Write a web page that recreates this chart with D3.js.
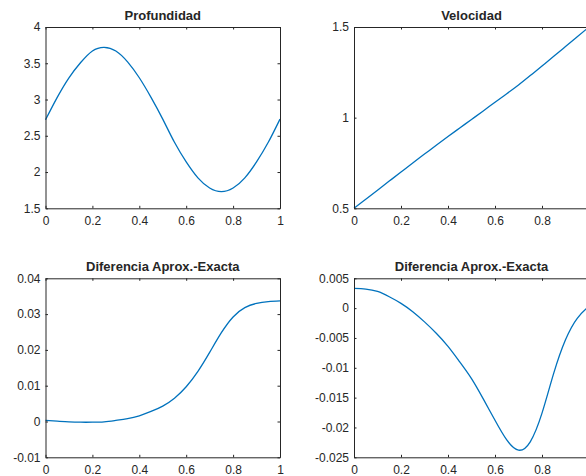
<!DOCTYPE html>
<html>
<head>
<meta charset="utf-8">
<script src="https://cdn.jsdelivr.net/npm/d3@7"></script>
<style>
  html, body { margin: 0; padding: 0; background: #fff; }
  svg { display: block; }
  text { font-family: "Liberation Sans", Arial, Helvetica, sans-serif; fill: #262626; }
</style>
</head>
<body>
<svg id="chart" width="586" height="476"></svg>
<script>
// ---- data ----
const xValues = [0,0.05,0.1,0.15,0.2,0.25,0.3,0.35,0.4,0.45,0.5,0.55,0.6,0.65,0.7,0.75,0.8,0.85,0.9,0.95,1];

const profundidad = [2.72,3.03,3.30,3.51,3.67,3.72,3.67,3.52,3.30,3.03,2.73,2.41,2.14,1.92,1.78,1.73,1.78,1.92,2.14,2.41,2.73];
const velocidad = [0.500,0.550,0.600,0.650,0.700,0.750,0.799,0.848,0.896,0.943,0.990,1.037,1.085,1.132,1.180,1.232,1.285,1.338,1.392,1.446,1.500];
const diferenciaProf = [0.0003,0.0001,-0.0001,-0.0002,-0.0002,-0.0001,0.0003,0.0008,0.0016,0.0028,0.0043,0.0065,0.0097,0.0140,0.0193,0.0248,0.0292,0.0318,0.0330,0.0335,0.0337];
const diferenciaVel = [0.0033,0.0032,0.0028,0.0019,0.0008,-0.0006,-0.0023,-0.0042,-0.0064,-0.0090,-0.0118,-0.0152,-0.0188,-0.0221,-0.0238,-0.0224,-0.0176,-0.0109,-0.0053,-0.0017,0.0003];

const titles = ["Profundidad","Velocidad","Diferencia Aprox.-Exacta","Diferencia Aprox.-Exacta"];

const xTicks = [0,0.2,0.4,0.6,0.8,1];
const xTickLabels = ["0","0.2","0.4","0.6","0.8","1"];

const yTicksProf = [1.5,2,2.5,3,3.5,4];
const yTickLabelsProf = ["1.5","2","2.5","3","3.5","4"];
const yTicksVel = [0.5,1,1.5];
const yTickLabelsVel = ["0.5","1","1.5"];
const yTicksDifProf = [-0.01,0,0.01,0.02,0.03,0.04];
const yTickLabelsDifProf = ["-0.01","0","0.01","0.02","0.03","0.04"];
const yTicksDifVel = [-0.025,-0.02,-0.015,-0.01,-0.005,0,0.005];
const yTickLabelsDifVel = ["-0.025","-0.02","-0.015","-0.01","-0.005","0","0.005"];

const yDomains = [[1.5,4],[0.5,1.5],[-0.01,0.04],[-0.025,0.005]];
const seriesList = [profundidad, velocidad, diferenciaProf, diferenciaVel];
const yTickSets = [yTicksProf, yTicksVel, yTicksDifProf, yTicksDifVel];
const yLabelSets = [yTickLabelsProf, yTickLabelsVel, yTickLabelsDifProf, yTickLabelsDifVel];

// ---- layout ----
const W = 586, H = 476;
const cols = [[45.5, 280], [354, 589]];
const rows = [[27, 208.3], [278.3, 457.3]];
const axisColor = "#262626";
const lineColor = "#0072BD";
const tickLen = 2.5;

const svg = d3.select("#chart");
svg.append("rect").attr("width", W).attr("height", H).attr("fill", "#fff");

for (let i = 0; i < 4; i++) {
  const c = cols[i % 2], r = rows[Math.floor(i / 2)];
  const x = d3.scaleLinear().domain([0, 1]).range(c);
  const y = d3.scaleLinear().domain(yDomains[i]).range([r[1], r[0]]);
  const g = svg.append("g");

  // line
  const line = d3.line()
    .x((d, k) => x(xValues[k]))
    .y(d => y(d))
    .curve(d3.curveNatural);
  g.append("path")
    .datum(seriesList[i])
    .attr("d", line)
    .attr("fill", "none")
    .attr("stroke", lineColor)
    .attr("stroke-width", 1.3);

  const xl = d3.scaleOrdinal().domain(xTicks).range(xTickLabels);
  const yl = d3.scaleOrdinal().domain(yTickSets[i]).range(yLabelSets[i]);

  const bottom = g.append("g").attr("transform", `translate(0,${r[1]})`)
    .call(d3.axisBottom(x).tickValues(xTicks).tickFormat(d => xl(d))
      .tickSizeInner(-tickLen).tickSizeOuter(0).tickPadding(5));
  const top = g.append("g").attr("transform", `translate(0,${r[0]})`)
    .call(d3.axisTop(x).tickValues(xTicks).tickFormat("")
      .tickSizeInner(-tickLen).tickSizeOuter(0));
  const left = g.append("g").attr("transform", `translate(${c[0]},0)`)
    .call(d3.axisLeft(y).tickValues(yTickSets[i]).tickFormat(d => yl(d))
      .tickSizeInner(-tickLen).tickSizeOuter(0).tickPadding(5));
  const right = g.append("g").attr("transform", `translate(${c[1]},0)`)
    .call(d3.axisRight(y).tickValues(yTickSets[i]).tickFormat("")
      .tickSizeInner(-tickLen).tickSizeOuter(0));

  [bottom, top, left, right].forEach(a => {
    a.select(".domain").attr("stroke", axisColor).attr("stroke-width", 1);
    a.selectAll(".tick line").attr("stroke", axisColor).attr("stroke-width", 1);
    a.selectAll(".tick text").attr("font-size", 12).attr("fill", axisColor)
      .attr("font-family", '"Liberation Sans", Arial, Helvetica, sans-serif');
  });
  bottom.selectAll(".tick text").attr("dy", "0.95em");
  // labels whose tick lies beyond the visible page are not shown (as in the reference)
  bottom.selectAll(".tick").filter(d => x(d) > W - 2).select("text").remove();

  g.append("text")
    .attr("x", (c[0] + c[1]) / 2)
    .attr("y", r[0] - 7.5)
    .attr("text-anchor", "middle")
    .attr("font-size", 13)
    .attr("font-weight", "bold")
    .text(titles[i]);
}
</script>
</body>
</html>
